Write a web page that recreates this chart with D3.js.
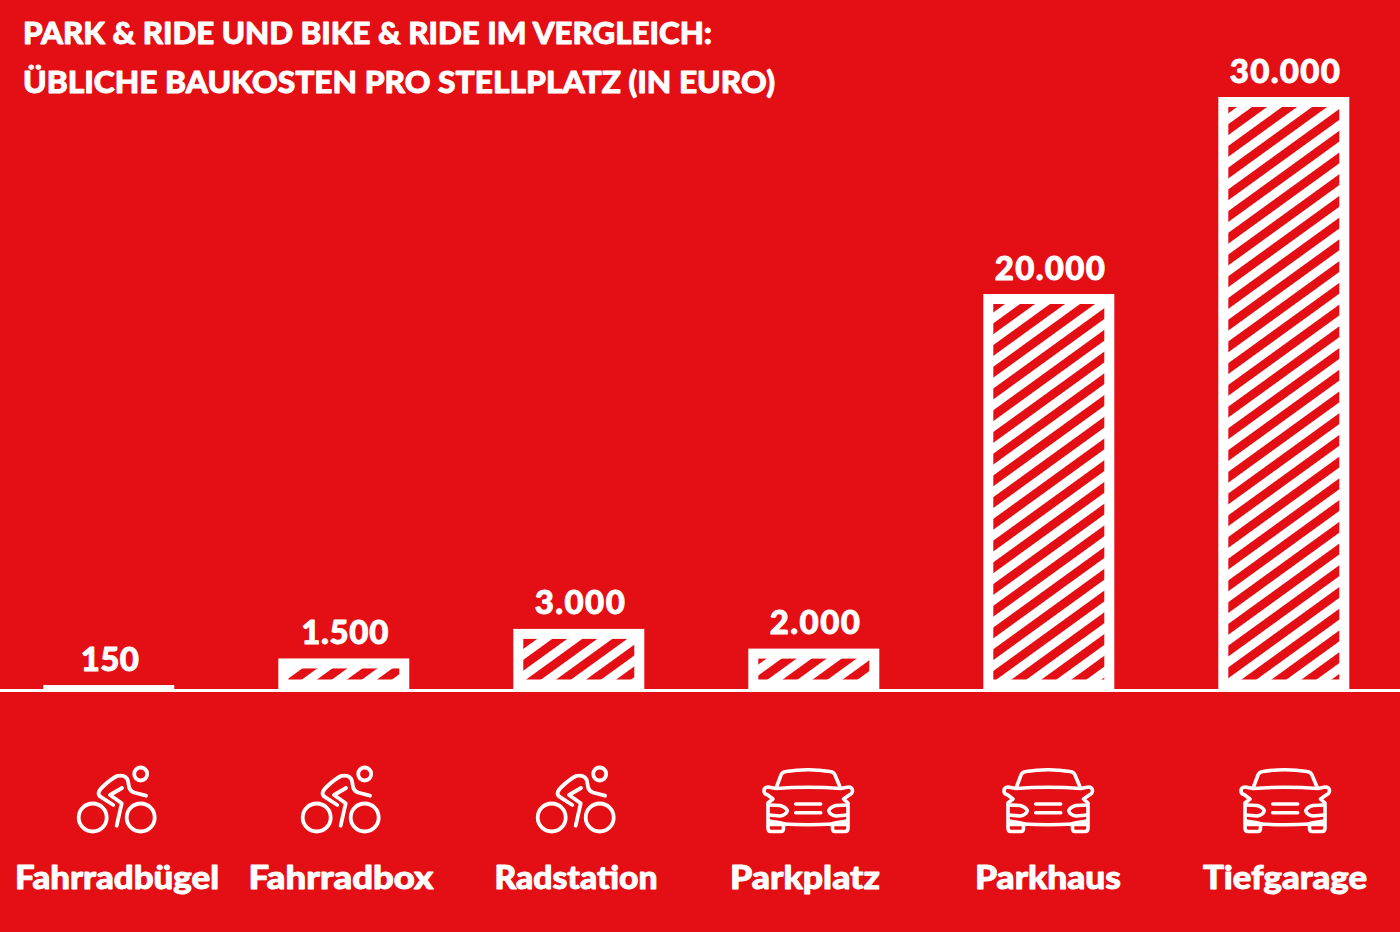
<!DOCTYPE html>
<html>
<head>
<meta charset="utf-8">
<script src="https://cdn.jsdelivr.net/npm/d3@7"></script>
<style>
html, body { margin: 0; padding: 0; background: #e30f15; }
text { font-family: Lato, sans-serif; font-weight: 900; fill: #fff; stroke: #fff; stroke-width: 0.9; stroke-linejoin: round; }
</style>
</head>
<body>
<svg id="canvas" width="1400" height="932"></svg>
<script>
var categories = ["Fahrradbügel", "Fahrradbox", "Radstation", "Parkplatz", "Parkhaus", "Tiefgarage"];
var costs = [150, 1500, 3000, 2000, 20000, 30000];
var valueLabels = ["150", "1.500", "3.000", "2.000", "20.000", "30.000"];
var iconTypes = ["bike", "bike", "bike", "car", "car", "car"];
var titleLines = ["PARK & RIDE UND BIKE & RIDE IM VERGLEICH:", "ÜBLICHE BAUKOSTEN PRO STELLPLATZ (IN EURO)"];

// layout
var iconCenters = [117, 341, 576, 808, 1048, 1285];
var labelCenters = [117, 341, 576, 805, 1048, 1285];
var labelWidths = [204, 185, 163, 150, 146, 164];
var valueWidths = [58, 87, 90, 90, 110, 110];
var titleWidths = [689, 752];
var hatchPhases = [0, 7.3, 6.6, 18.5, 10.3, 3];

var svg = d3.select("#canvas"),
  width = +svg.attr("width"),
  height = +svg.attr("height");

var red = "#e30f15";
var baseY = 690;
var border = 10;
var innerBottom = 679.5;
var stripe = 17.6;

var x = d3.scaleBand()
  .domain(categories)
  .range([43.3, 1349.3])
  .paddingInner(0.4426)
  .paddingOuter(0);

// zero sits just above the base line, the bars run down to the line
var y = d3.scaleLinear()
  .domain([0, 30000])
  .range([688, 97]);

svg.append("rect").attr("width", width).attr("height", height).attr("fill", red);

var defs = svg.append("defs");
var pattern = defs.selectAll("pattern")
  .data(hatchPhases)
  .enter().append("pattern")
  .attr("id", function(d, i) { return "hatch" + i; })
  .attr("patternUnits", "userSpaceOnUse")
  .attr("width", stripe)
  .attr("height", stripe)
  .attr("patternTransform", function(d) { return "translate(0," + d + ") rotate(-35.9)"; });
pattern.append("rect").attr("width", stripe).attr("height", stripe).attr("fill", red);
pattern.append("rect").attr("width", stripe).attr("height", stripe / 2).attr("fill", "#fff");

// title
svg.selectAll(".title")
  .data(titleLines)
  .enter().append("text")
  .attr("class", "title")
  .attr("x", 23)
  .attr("y", function(d, i) { return 44 + i * 49; })
  .attr("font-size", 31)
  .attr("textLength", function(d, i) { return titleWidths[i]; })
  .attr("lengthAdjust", "spacingAndGlyphs")
  .text(function(d) { return d; });

// bars
var bar = svg.selectAll(".bar")
  .data(categories)
  .enter().append("g")
  .attr("class", "bar");

bar.append("rect")
  .attr("x", function(d) { return x(d); })
  .attr("y", function(d, i) { return y(costs[i]); })
  .attr("width", x.bandwidth())
  .attr("height", function(d, i) { return baseY - y(costs[i]); })
  .attr("fill", "#fff");

bar.append("rect")
  .attr("x", function(d) { return x(d) + border; })
  .attr("y", function(d, i) { return y(costs[i]) + border; })
  .attr("width", x.bandwidth() - 2 * border)
  .attr("height", function(d, i) { return Math.max(0, innerBottom - y(costs[i]) - border); })
  .attr("fill", function(d, i) { return "url(#hatch" + i + ")"; });

bar.append("text")
  .attr("x", function(d, i) { return x(d) + x.bandwidth() / 2 + 1 - valueWidths[i] / 2; })
  .attr("y", function(d, i) { return y(costs[i]) - 14.5; })
  .attr("font-size", 33)
  .attr("textLength", function(d, i) { return valueWidths[i]; })
  .attr("lengthAdjust", "spacing")
  .text(function(d, i) { return valueLabels[i]; });

// baseline
svg.append("line")
  .attr("x1", 0).attr("x2", width)
  .attr("y1", baseY + 0.5).attr("y2", baseY + 0.5)
  .attr("stroke", "#fff")
  .attr("stroke-width", 3);

// icons, coordinates relative to the icon centre
function bikeIcon(g) {
  g.attr("stroke-width", 3.8);
  g.append("circle").attr("cx", -24.3).attr("cy", 17.5).attr("r", 14);
  g.append("circle").attr("cx", 23.7).attr("cy", 17.5).attr("r", 14);
  g.append("circle").attr("cx", 23.7).attr("cy", -26).attr("r", 6.5);
  g.append("path").attr("d", "M29,-4.3 L17,-7.5 Q13,-9 12,-13 L11,-19 Q9,-26 0,-24 Q-6,-21 -14,-13.5 Q-22,-6 -15.5,-2.7 L-3.7,5");
  g.append("path").attr("d", "M5,-12 L-7,-5 L4.7,3.3 L-0.3,25.7");
}

function carIcon(g) {
  g.attr("stroke-width", 3.6);
  g.append("path").attr("d", "M-31.5,-13 L-27,-25 Q-26,-28 -22,-28.5 Q0,-32 22,-28.5 Q26,-28 27,-25 L32,-13");
  g.append("path").attr("d", "M-32,-11.5 Q0,-14 33,-11.5 L40,-13 Q44.5,-13 44.5,-9 Q44,-6 42,-5.5 L35.5,-1 L40,3 L40,28 Q40,31.5 37,31.5 L27,31.5 Q24.5,31.5 24.5,28 L24.5,24 Q0,25.5 -24.5,24 L-24.5,28 Q-24.5,31.5 -27,31.5 L-37,31.5 Q-40,31.5 -40,28 L-40,3 L-35,-1 L-41,-5.5 Q-44,-6 -44,-9 Q-44,-13 -40,-13 L-32,-11.5");
  g.append("path").attr("d", "M-39,5 L-28,5.5 Q-22,7 -20.7,10.7 Q-22,15 -28,16 L-39,15");
  g.append("path").attr("d", "M39,5 L28,5.5 Q22,7 20.7,10.7 Q22,15 28,16 L39,15");
  g.append("path").attr("d", "M-12.3,4 H12.7 M-12.3,12.7 H12.7");
  g.append("path").attr("d", "M-39,21 Q-20,24 -24.5,24 M39,21 Q20,24 24.5,24 M-39,24.5 H-24.5 M39,24.5 H24.5");
}

var icon = svg.selectAll(".icon")
  .data(categories)
  .enter().append("g")
  .attr("class", "icon")
  .attr("transform", function(d, i) { return "translate(" + iconCenters[i] + ",800)"; })
  .attr("fill", "none")
  .attr("stroke", "#fff")
  .attr("stroke-linecap", "round")
  .attr("stroke-linejoin", "round");

icon.each(function(d, i) {
  if (iconTypes[i] == "bike") {
    bikeIcon(d3.select(this));
  } else {
    carIcon(d3.select(this));
  }
});

// category labels
svg.selectAll(".cat")
  .data(categories)
  .enter().append("text")
  .attr("class", "cat")
  .attr("x", function(d, i) { return labelCenters[i] - labelWidths[i] / 2; })
  .attr("y", 888.5)
  .attr("font-size", 32)
  .attr("textLength", function(d, i) { return labelWidths[i]; })
  .attr("lengthAdjust", "spacingAndGlyphs")
  .text(function(d) { return d; });
</script>
</body>
</html>
